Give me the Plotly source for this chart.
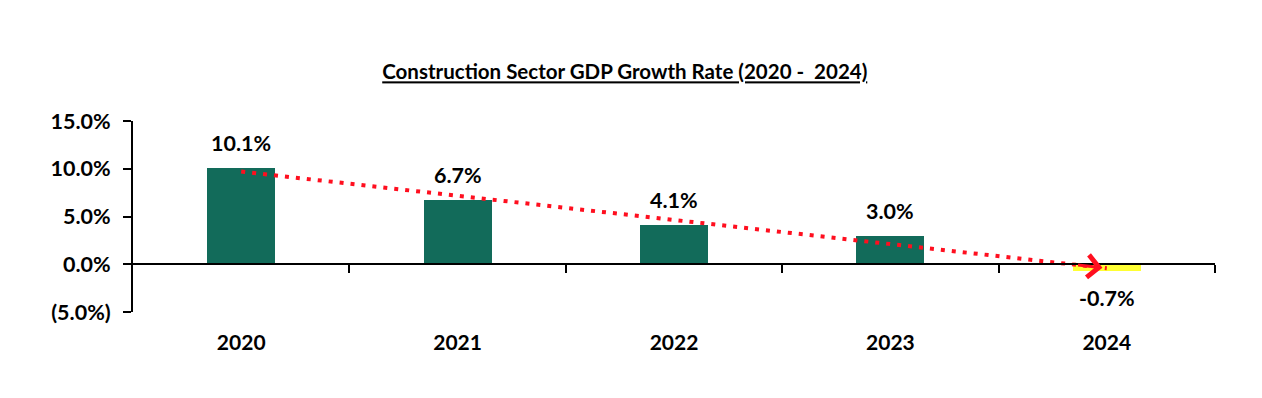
import numpy as np
import plotly.graph_objects as go

years = ["2020", "2021", "2022", "2023", "2024"]
growth = [10.1, 6.7, 4.1, 3.0, -0.7]
bar_colors = ["#126b5a", "#126b5a", "#126b5a", "#126b5a", "#ffff33"]
y_tickvals = [-5, 0, 5, 10, 15]
y_ticktext = ["(5.0%)", "0.0%", "5.0%", "10.0%", "15.0%"]
title_text = "Construction Sector GDP Growth Rate (2020 -\u00a0 2024)"

FONT = "Lato"
idx = np.arange(len(years))
slope, intercept = np.polyfit(idx, growth, 1)
trend = slope * idx + intercept

fig = go.Figure()
fig.add_trace(go.Bar(x=idx, y=growth, marker=dict(color=bar_colors, line=dict(width=0)),
                     width=0.315, showlegend=False, hoverinfo="skip"))
fig.add_trace(go.Scatter(x=idx, y=trend, mode="lines",
                         line=dict(color="#ff0f1f", width=4, dash="4px,7px"),
                         showlegend=False, hoverinfo="skip"))
# arrow head at end of trendline
fig.add_annotation(x=idx[-1] - 0.02, y=trend[-1] - slope * 0.02, ax=idx[-1] - 0.14,
                   ay=trend[-1] - slope * 0.14,
                   xref="x", yref="y", axref="x", ayref="y", text="", showarrow=True,
                   arrowhead=4, arrowsize=1.45, arrowwidth=3, arrowcolor="#ff0f1f")
for i, v in zip(idx, growth):
    fig.add_annotation(x=i, y=v, text=f"{v:.1f}%", showarrow=False, xref="x", yref="y",
                       yshift=25 if v >= 0 else -27,
                       font=dict(family=FONT, size=21.5, color="black", weight="bold"))

# zero line with category separator ticks
fig.update_layout(xaxis2=dict(overlaying="x", anchor="free", position=0.25, range=[-0.5, 4.5],
                              showline=True, linecolor="black", linewidth=2,
                              tickvals=[0.5, 1.5, 2.5, 3.5, 4.5], ticks="outside", ticklen=8,
                              tickwidth=2, tickcolor="black", showticklabels=False,
                              showgrid=False, zeroline=False))
fig.add_trace(go.Scatter(x=[0], y=[0], xaxis="x2", mode="markers", marker=dict(opacity=0),
                         showlegend=False, hoverinfo="skip"))

fig.update_layout(
    width=1246, height=382,
    margin=dict(l=125, r=39, t=113, b=78),
    paper_bgcolor="white", plot_bgcolor="white",
    title=dict(text=f"<b><u>{title_text}</u></b>", x=0.495, xanchor="center", y=0.832, yanchor="middle",
               font=dict(family=FONT, size=20.5, color="black")),
    xaxis=dict(range=[-0.5, 4.5], tickvals=list(idx), ticktext=years, showline=False,
               showgrid=False, zeroline=False, ticks="", ticklabelstandoff=16,
               tickfont=dict(family=FONT, size=21, color="black", weight="bold")),
    yaxis=dict(range=[-5, 15], tickvals=y_tickvals, ticktext=y_ticktext, showline=True,
               linecolor="black", linewidth=2, ticks="outside", ticklen=8, tickwidth=2,
               tickcolor="black", showgrid=False, zeroline=False, ticklabelstandoff=8,
               tickfont=dict(family=FONT, size=21.5, color="black", weight="bold")),
    bargap=0,
)
fig.write_html("out.html")
